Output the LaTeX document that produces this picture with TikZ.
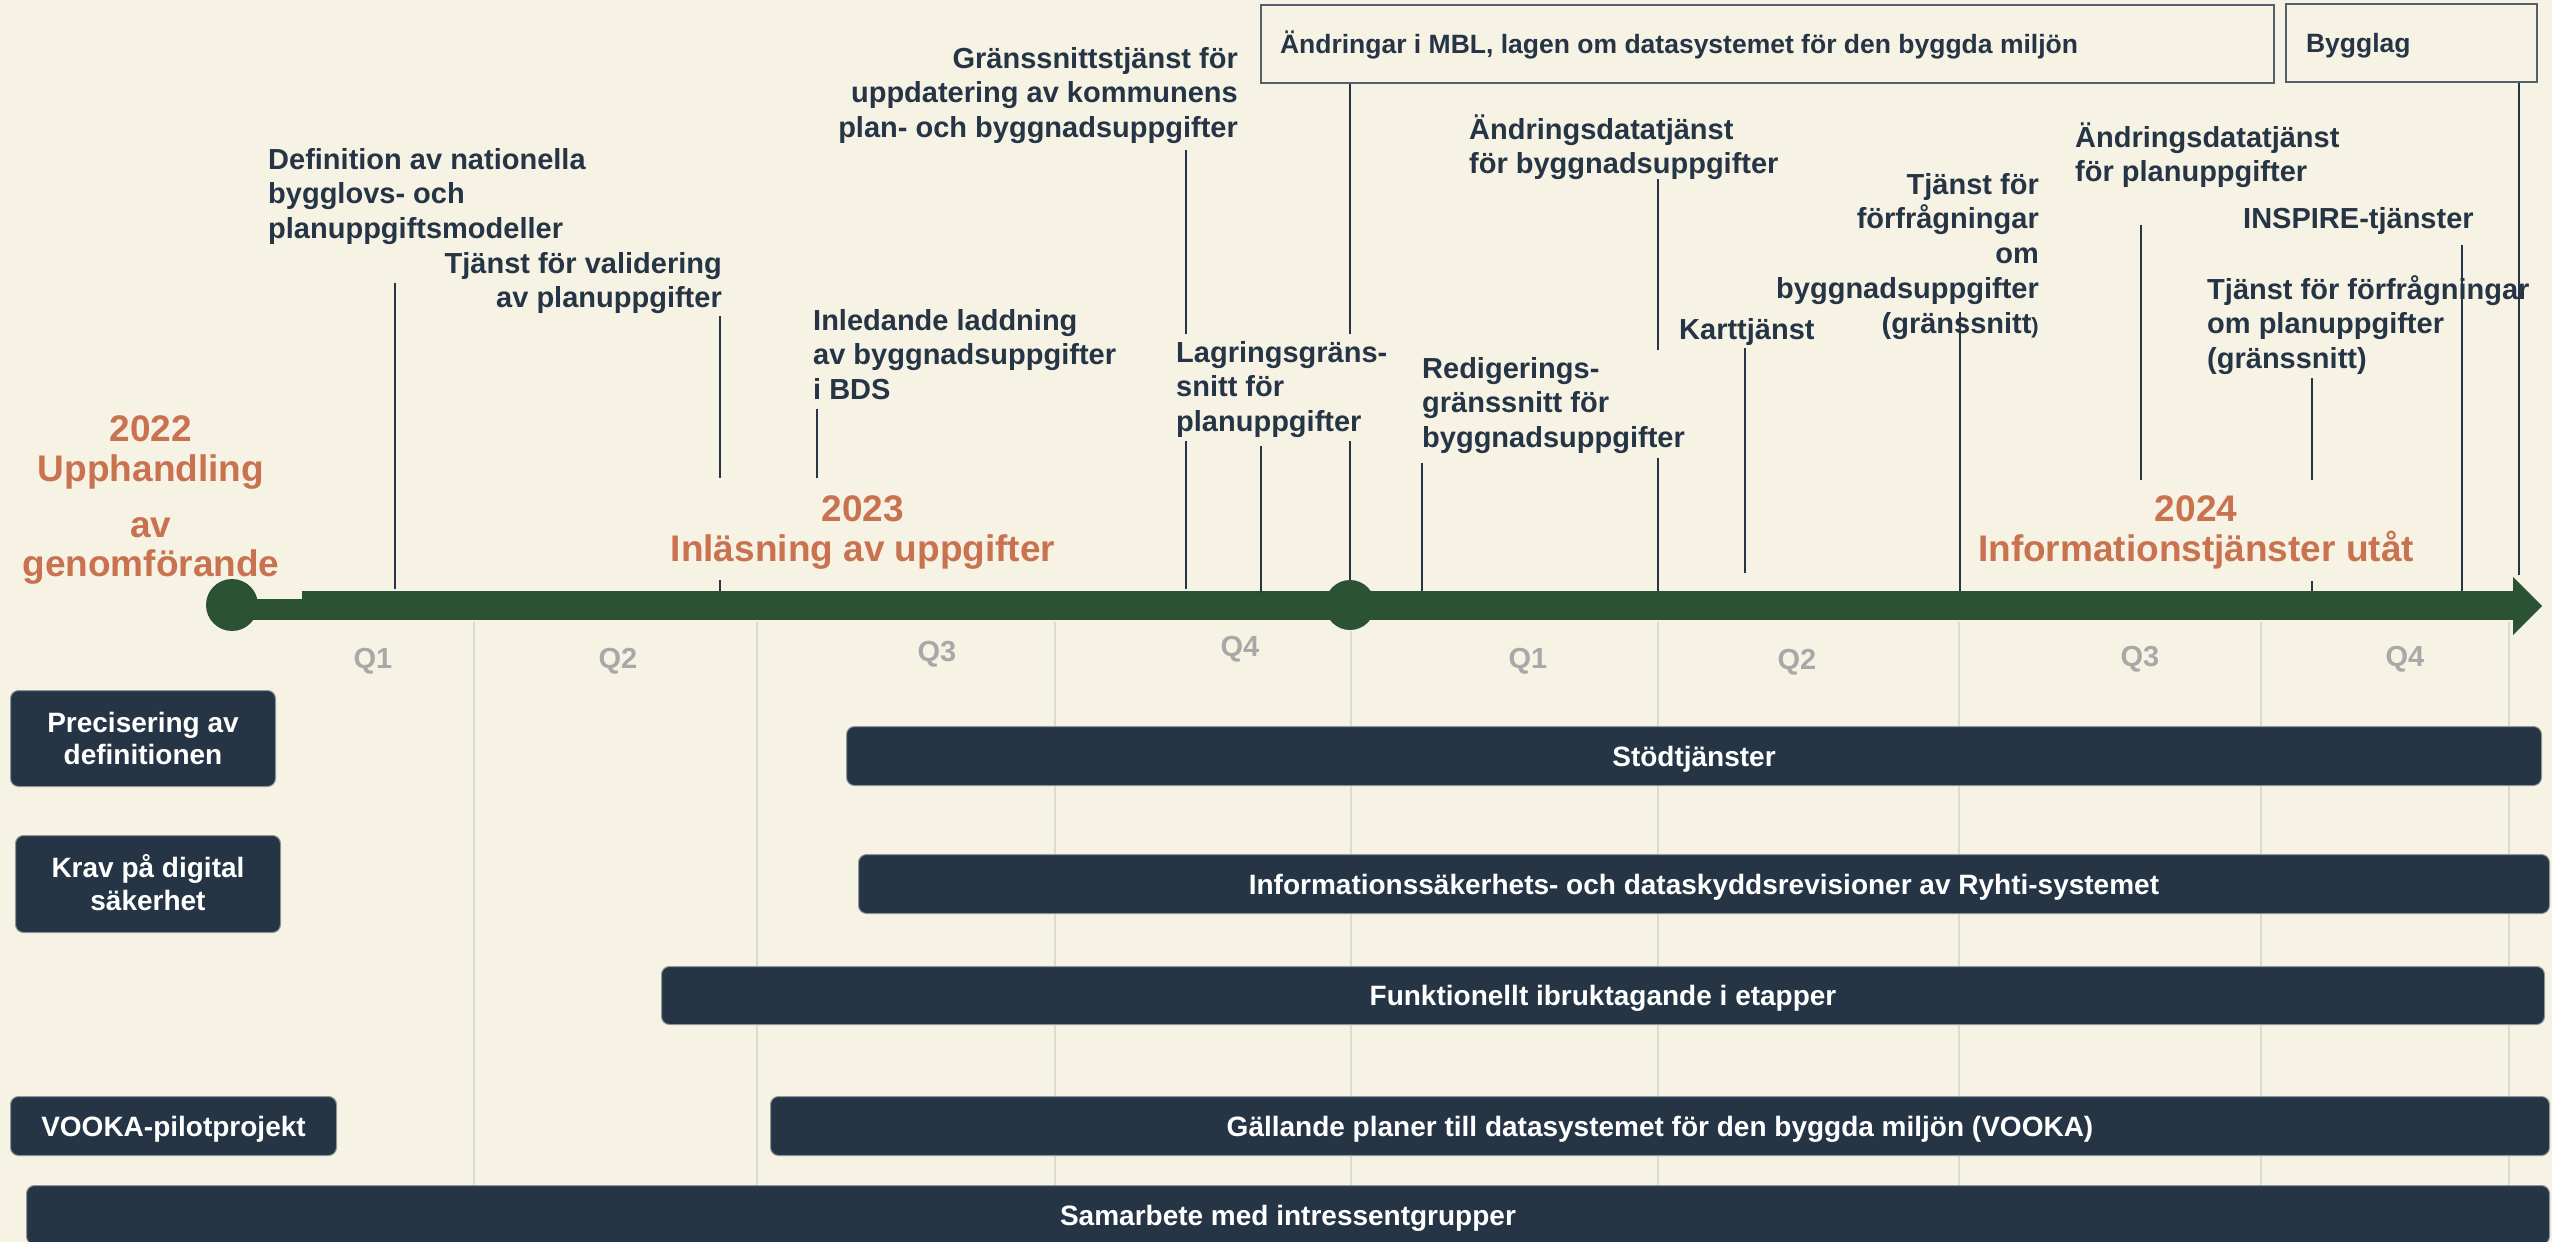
\documentclass[tikz,border=0pt]{standalone}
\usepackage{fontspec}
\setmainfont{Liberation Sans}
\usetikzlibrary{calc}

\definecolor{bgc}{HTML}{F6F2E4}
\definecolor{pine}{HTML}{2C5234}
\definecolor{navy}{HTML}{253546}
\definecolor{rust}{HTML}{C87250}
\definecolor{qgray}{HTML}{A8A8A8}
\definecolor{gridc}{HTML}{DCDAD4}
\definecolor{framec}{HTML}{56606B}
\definecolor{edgec}{HTML}{8E979A}

% stacked lines whose reference point is the baseline of the first line
\newcommand\labL[1]{\vtop{\lineskiplimit=-\maxdimen\halign{##\hfil\cr#1\crcr}}}
\newcommand\labR[1]{\vtop{\lineskiplimit=-\maxdimen\halign{\hfil##\cr#1\crcr}}}
\newcommand\labC[1]{\vtop{\lineskiplimit=-\maxdimen\halign{\hfil##\hfil\cr#1\crcr}}}

\begin{document}
\begin{tikzpicture}[x=1pt,y=-1pt,
  lab/.style={font=\fontsize{29}{34.8}\selectfont\bfseries, text=navy, inner sep=0pt},
  yr/.style={font=\fontsize{37}{40}\selectfont\bfseries, text=rust, inner sep=0pt, anchor=base},
  qlab/.style={font=\fontsize{29}{30}\selectfont\bfseries, text=qgray, inner sep=0pt, anchor=base},
  tick/.style={draw=navy, line width=2.2pt},
  gridln/.style={draw=gridc, line width=1.2pt},
  bar/.style={fill=navy, draw=edgec, line width=1pt, rounded corners=8pt,
    inner sep=0pt, anchor=north west, text=white,
    font=\fontsize{28}{32.5}\selectfont\bfseries, text height=20pt, text depth=0pt},
  twoline/.style={text depth=32.5pt},
  frm/.style={draw=framec, line width=2pt, inner sep=0pt, anchor=north west, text=navy,
    font=\fontsize{26.5}{30}\selectfont\bfseries, text height=19pt, text depth=0pt},
  milestone/.style={circle, fill=pine, inner sep=0pt, minimum size=#1},
]
\useasboundingbox (0,0) rectangle (2552,1242);
\clip (0,0) rectangle (2552,1242);
\fill[bgc] (0,0) rectangle (2552,1242);

% quarter grid
\foreach \x in {474,757,1055,1658,1959,2261,2509}
  \draw[gridln] (\x,622) -- (\x,1242);
\draw[gridln] (1351,631) -- (1351,1242);

% time axis
\fill[pine] (232,599) rectangle (302,620);
\fill[pine] (302,591) rectangle (2513,620);
\fill[pine] (2513,577) -- (2542,606) -- (2513,635) -- cycle;

% legislation frames
\node[frm, minimum height=78pt] (mbl) at (1260,4)
  {\makebox[1013pt][l]{\hspace*{19pt}Ändringar i MBL, lagen om datasystemet för den byggda miljön}};
\node[frm, minimum height=78pt] (byg) at (2285,3)
  {\makebox[251pt][l]{\hspace*{20pt}Bygglag}};

% milestone labels
\node[lab, anchor=base west] (defn) at (268,169)
  {\labL{Definition av nationella\cr bygglovs- och\cr planuppgiftsmodeller}};
\node[lab, anchor=base east] (valid) at (722,273)
  {\labR{Tjänst för validering\cr av planuppgifter}};
\node[lab, anchor=base west] (inled) at (813,330)
  {\labL{Inledande laddning\cr av byggnadsuppgifter\cr i BDS}};
\node[lab, anchor=base east] (grans) at (1238,68)
  {\labR{Gränssnittstjänst för\cr uppdatering av kommunens\cr plan- och byggnadsuppgifter}};
\node[lab, anchor=base west] (lagr) at (1176,362)
  {\labL{Lagringsgräns-\cr snitt för\cr planuppgifter}};
\node[lab, anchor=base west] (redig) at (1422,378)
  {\labL{Redigerings-\cr gränssnitt för\cr byggnadsuppgifter}};
\node[lab, anchor=base west] (andb) at (1469,139)
  {\labL{Ändringsdatatjänst\cr för byggnadsuppgifter}};
\node[lab, anchor=base west] (kart) at (1679,339) {Karttjänst};
\node[lab, anchor=base east] (forb) at (2039,194)
  {\labR{Tjänst för\cr förfrågningar\cr om\cr byggnadsuppgifter\cr (gränssnitt{\fontsize{22}{26}\selectfont)}}};
\node[lab, anchor=base west] (andp) at (2075,147)
  {\labL{Ändringsdatatjänst\cr för planuppgifter}};
\node[lab, anchor=base west] (insp) at (2243,228) {INSPIRE-tjänster};
\node[lab, anchor=base west] (forp) at (2207,299)
  {\labL{Tjänst för förfrågningar\cr om planuppgifter\cr (gränssnitt)}};

% year headings
\node[yr] (y22a) at (151,441) {\labC{2022\cr Upphandling}};
\node[yr, font=\fontsize{37}{39}\selectfont\bfseries] (y22b) at (151,537) {\labC{av\cr genomförande}};
\node[yr] (y23) at (863,521) {\labC{2023\cr Inläsning av uppgifter}};
\node[yr] (y24) at (2196,521) {\labC{2024\cr Informationstjänster utåt}};

% milestone dots
\node[milestone=52pt] (m22) at (232,605) {};
\node[milestone=50pt] (m23) at (1350,605) {};

% ticks from labels down to the axis
\foreach \nm/\x/\ya/\yb in {defn/395/283/589, valid/720/316/478, valid2/720/580/591,
    inled/817/409/478, grans/1186/150/334, grans2/1186/441/589, lagr/1261/446/593,
    redig/1422/463/591, andb/1658/179/350, andb2/1658/458/591, kart/1745/348/573,
    forb/1960/312/591, andp/2141/225/480, forp/2312/378/480, forp2/2312/581/591,
    insp/2462/245/591}{
  \coordinate (\nm-top) at (\x,\ya);
  \coordinate (\nm-axis) at (\x,\yb);
  \draw[tick] (\nm-top) -- (\nm-axis);
}
% ticks hanging from the legislation frames
\coordinate (mblgapA) at (1350,334);
\coordinate (mblgapB) at (1350,441);
\draw[tick] (mbl.south -| m23) -- (mblgapA);
\draw[tick] (mblgapB) -- (m23.north);
\coordinate (bygend) at (2519,575);
\draw[tick] (byg.south -| bygend) -- (bygend);

% quarter labels
\foreach \x/\y/\q in {373/668/Q1, 618/668/Q2, 937/661/Q3, 1240/656/Q4,
    1528/668/Q1, 1797/669/Q2, 2140/666/Q3, 2405/666/Q4}
  \node[qlab] at (\x,\y) {\q};

% workstreams
\node[bar, twoline, minimum width=265pt, minimum height=96pt] (prec) at (10,690)
  {\labC{Precisering av\cr definitionen}};
\node[bar, twoline, minimum width=265pt, minimum height=97pt] (krav) at (15,835)
  {\labC{Krav på digital\cr säkerhet}};
\node[bar, minimum width=326pt, minimum height=59pt] (vooka) at (10,1096) {VOOKA-pilotprojekt};

\node[bar, minimum width=1695pt, minimum height=59pt] (stod) at (846,726) {Stödtjänster};
\node[bar, minimum width=1691pt, minimum height=59pt] (infos) at (858,854)
  {Informationssäkerhets- och dataskyddsrevisioner av Ryhti-systemet};
\node[bar, minimum width=1883pt, minimum height=58pt] (funk) at (661,966)
  {Funktionellt ibruktagande i etapper};
\node[bar, minimum width=1779pt, minimum height=59pt] (gall) at (770,1096)
  {Gällande planer till datasystemet för den byggda miljön (VOOKA)};
\node[bar, minimum width=2523pt, minimum height=59pt] (samb) at (26,1185)
  {Samarbete med intressentgrupper};
\end{tikzpicture}
\end{document}
